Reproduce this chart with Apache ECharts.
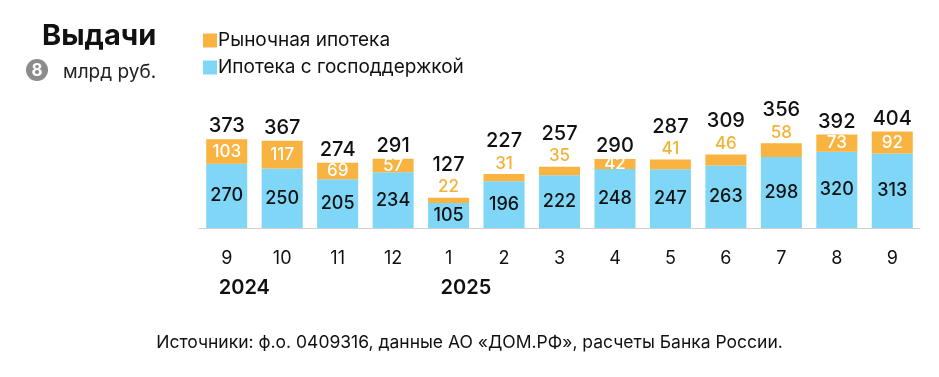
<!DOCTYPE html>
<html>
<head>
<meta charset="utf-8">
<script src="https://cdn.jsdelivr.net/npm/echarts@6/dist/echarts.min.js"></script>
<style>
  html, body { margin: 0; padding: 0; background: #fff; }
  #main { width: 939px; height: 377px; }
</style>
</head>
<body>
<div id="main"></div>
<script>
// данные
var months = ['9', '10', '11', '12', '1', '2', '3', '4', '5', '6', '7', '8', '9'];
var years = ['2024', '', '', '', '2025', '', '', '', '', '', '', '', ''];
var gov = [270, 250, 205, 234, 105, 196, 222, 248, 247, 263, 298, 320, 313];
var market = [103, 117, 69, 57, 22, 31, 35, 42, 41, 46, 58, 73, 92];
var totals = [373, 367, 274, 291, 127, 227, 257, 290, 287, 309, 356, 392, 404];

var FONT = 'Inter, "Noto Sans", sans-serif';
var ORANGE = '#F9B340';
var BLUE = '#7FD6F7';

// у каких столбцов подпись рыночной ипотеки вынесена наверх
var outsideIdx = [4, 5, 6, 8, 9, 10];

var chart = echarts.init(document.getElementById('main'));

var marketData = market.map(function (v, i) {
  if (outsideIdx.indexOf(i) >= 0) {
    return { value: v, label: { position: 'top', distance: 2, color: '#F2B236' } };
  }
  return v;
});
var totalData = totals.map(function (v, i) {
  return { value: v, label: { distance: outsideIdx.indexOf(i) >= 0 ? 23 : 3 } };
});

var badge = [
  { type: 'circle', shape: { cx: 37, cy: 70, r: 11 }, style: { fill: '#8C8C8C' } },
  {
    type: 'text', x: 37, y: 71,
    style: { text: '8', fill: '#fff', font: 'bold 17px ' + FONT, align: 'center', verticalAlign: 'middle' }
  }
];

chart.setOption({
  animation: false,
  textStyle: { fontFamily: FONT },
  title: [
    {
      text: 'Выдачи', left: 37, top: 17,
      textStyle: { fontSize: 29, fontWeight: 'bold', color: '#111', fontFamily: FONT }
    },
    {
      text: 'млрд руб.', left: 58, top: 58,
      textStyle: { fontSize: 19, fontWeight: 'normal', color: '#222', fontFamily: FONT }
    },
    {
      text: 'Источники: ф.о. 0409316, данные АО «ДОМ.РФ», расчеты Банка России.',
      left: 'center', top: 329,
      textStyle: { fontSize: 17.5, fontWeight: 'normal', color: '#111', fontFamily: FONT }
    }
  ],
  graphic: badge,
  legend: {
    orient: 'vertical', left: 198, top: 26,
    itemWidth: 14, itemHeight: 14, itemGap: 8,
    icon: 'rect',
    data: ['Рыночная ипотека', 'Ипотека с господдержкой'],
    textStyle: { fontSize: 19, color: '#111', padding: [0, 0, 0, -4] }
  },
  grid: { left: 199, right: 19, top: 109, bottom: 149 },
  xAxis: {
    type: 'category',
    data: months,
    axisLine: { lineStyle: { color: '#cfcfcf', width: 1 } },
    axisTick: { show: false },
    axisLabel: { fontSize: 18, color: '#111', margin: 22 }
  },
  yAxis: {
    type: 'value', min: 0, max: 500,
    show: false,
    splitLine: { show: false }
  },
  series: [
    {
      name: 'Ипотека с господдержкой', type: 'bar', stack: 'all',
      data: gov, barWidth: 41,
      itemStyle: { color: BLUE },
      label: { show: true, position: 'inside', fontSize: 18, fontWeight: 500, color: '#111' }
    },
    {
      name: 'Рыночная ипотека', type: 'bar', stack: 'all',
      data: marketData, barWidth: 41,
      itemStyle: { color: ORANGE },
      label: { show: true, position: 'inside', fontSize: 17, fontWeight: 500, color: '#fff' }
    },
    {
      name: 'Итого', type: 'bar',
      data: totalData, barWidth: 41, barGap: '-100%',
      itemStyle: { color: 'rgba(0,0,0,0)' },
      silent: true, z: 1,
      label: { show: true, position: 'top', fontSize: 20, fontWeight: 500, color: '#111' }
    }
  ]
});

// годы под месяцами, выравнены по левому краю подписи
var yearGraphics = [];
years.forEach(function (y, i) {
  if (!y) return;
  var x = chart.convertToPixel({ xAxisIndex: 0 }, i);
  yearGraphics.push({
    type: 'text', x: x - 8, y: 288,
    style: { text: y, fill: '#111', font: '600 20px ' + FONT, align: 'left', verticalAlign: 'middle' }
  });
});
chart.setOption({ graphic: badge.concat(yearGraphics) }, { replaceMerge: ['graphic'] });
</script>
</body>
</html>
